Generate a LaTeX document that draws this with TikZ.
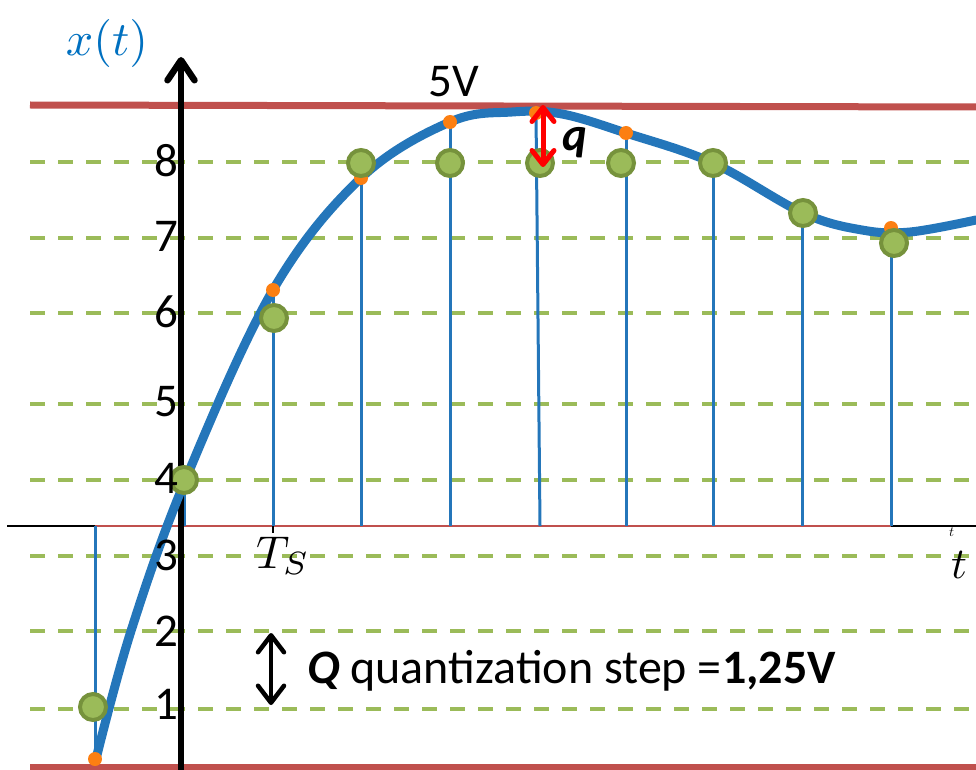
\documentclass[tikz,border=0pt]{standalone}
\usepackage{graphicx}
\usepackage[no-math]{fontspec}
\setmainfont{Carlito}
\usetikzlibrary{arrows.meta}
\definecolor{redline}{RGB}{192,80,77}
\definecolor{gdash}{RGB}{155,187,89}
\definecolor{gfill}{RGB}{155,187,89}
\definecolor{gborder}{RGB}{118,146,60}
\definecolor{cblue}{RGB}{36,118,186}
\definecolor{xblue}{RGB}{0,112,192}
\definecolor{dotorange}{RGB}{252,127,18}
\tikzset{
  level/.style={draw=gdash, line width=4pt, dash pattern=on 15pt off 13pt},
  bound/.style={draw=redline, line width=7pt},
  stemline/.style={draw=cblue, line width=3pt},
  signal/.style={draw=cblue, line width=9pt, line cap=round},
  qdot/.style={circle, fill=gfill, draw=gborder, line width=4pt, minimum size=26pt, inner sep=0pt},
  odot/.style={circle, fill=dotorange, minimum size=14pt, inner sep=0pt},
  lab/.style={anchor=east, inner sep=0pt, font=\fontsize{47}{50}\selectfont},
  bigtxt/.style={inner sep=0pt, font=\fontsize{47}{50}\selectfont},
  mtxt/.style={inner sep=0pt}
}
\begin{document}
\begin{tikzpicture}[x=1pt,y=-1pt]
\useasboundingbox (0,0) rectangle (976,770);
% quantization levels
\foreach \y in {162,238,313,404,480,556,631,709}
  \draw[level] (30,\y) -- (976,\y);
% range boundaries
\draw[bound] (30,105) -- (976,107);
\draw[bound] (30,767) -- (976,767);
% time axis
\draw[line width=1.5pt] (7,526) -- (976,526);
\draw[redline, line width=1.5pt] (95,526) -- (891,526);
\draw[line width=1.2pt] (273,526) -- (273,533);
% sample points (orange = actual values)
\foreach \n/\x/\y in {1/95/759, 2/184/482, 3/273/290, 4/361/178, 5/450/122, 6/536/113, 7/626/133, 8/713/163, 9/802/213, 10/891/228}
  \coordinate (o\n) at (\x,\y);
\foreach \n/\x in {1/95, 2/184, 3/273, 4/361, 5/450, 6/540, 7/626, 8/713, 9/802, 10/891}
  \coordinate (b\n) at (\x,526);
\foreach \n in {1,...,10}
  \draw[stemline] (b\n) -- (o\n);
% vertical axis
\coordinate (ybot) at (181,770);
\coordinate (ytop) at (181,57);
\draw[line width=6.5pt, -{Straight Barb[length=20pt,width=27pt,round]}] (ybot) -- (ytop);
% signal
\draw[signal] plot[smooth, tension=0.6] coordinates {(96,759) (131,631) (185,481) (273,290) (361,178) (450,122) (512,112) (562,114) (626,133) (713,163) (803,213) (862,230) (910,232) (976,220)};
\foreach \n in {1,3,4,5,6,7,10}
  \node[odot] (od\n) at (o\n) {};
% quantized samples
\node[qdot] (s1) at (93,707) {};
\node[qdot] (s2) at (184,480) {};
\node[qdot] (s3) at (274,318) {};
\node[qdot] (s4) at (361,163) {};
\node[qdot] (s5) at (450,163) {};
\node[qdot] (s6) at (540,163) {};
\node[qdot] (s7) at (621,163) {};
\node[qdot] (s8) at (713,163) {};
\node[qdot] (s9) at (803,213) {};
\node[qdot] (s10) at (894,243) {};
% level labels
\node[lab] (l8) at (179,161) {8};
\node[lab] (l7) at (179,236) {7};
\node[lab] (l6) at (179,312) {6};
\node[lab] (l5) at (179,402) {5};
\node[lab] (l4) at (179,478) {4};
\node[lab] (l3) at (179,555) {3};
\node[lab] (l2) at (179,631) {2};
\node[lab] (l1) at (179,704) {1};
% other labels
\node[mtxt, text=xblue] (xt) at (107,44) {\scalebox{4.8}{$x(t)$}};
\node[bigtxt, anchor=base west] (fv) at (428,97) {5V};
\node[mtxt, anchor=base west] (ts) at (256,568) {\scalebox{4.6}{$T_S$}};
\node[mtxt, anchor=base west] (tb) at (951,578) {\scalebox{4.4}{$t$}};
\node[mtxt, anchor=base west] (tsm) at (949,536) {\scalebox{1.4}{$t$}};
\node[bigtxt, anchor=base west] (ql) at (562,151) {\textbf{\textit{q}}};
\node[inner sep=0pt, anchor=base west, font=\fontsize{48}{50}\selectfont] (qs) at (307,683) {\textbf{\textit{Q}} quantization step =\textbf{1,25V}};
% arrows
\coordinate (qa) at (543,105);
\coordinate (qb) at (543,167);
\draw[red, line width=5pt, {Straight Barb[length=14pt,width=22pt,round]}-{Straight Barb[length=14pt,width=22pt,round]}] (qa) -- (qb);
\coordinate (Qa) at (271,633);
\coordinate (Qb) at (271,705);
\draw[line width=4.5pt, {Straight Barb[length=17pt,width=26pt,round]}-{Straight Barb[length=17pt,width=26pt,round]}] (Qa) -- (Qb);
\end{tikzpicture}
\end{document}
